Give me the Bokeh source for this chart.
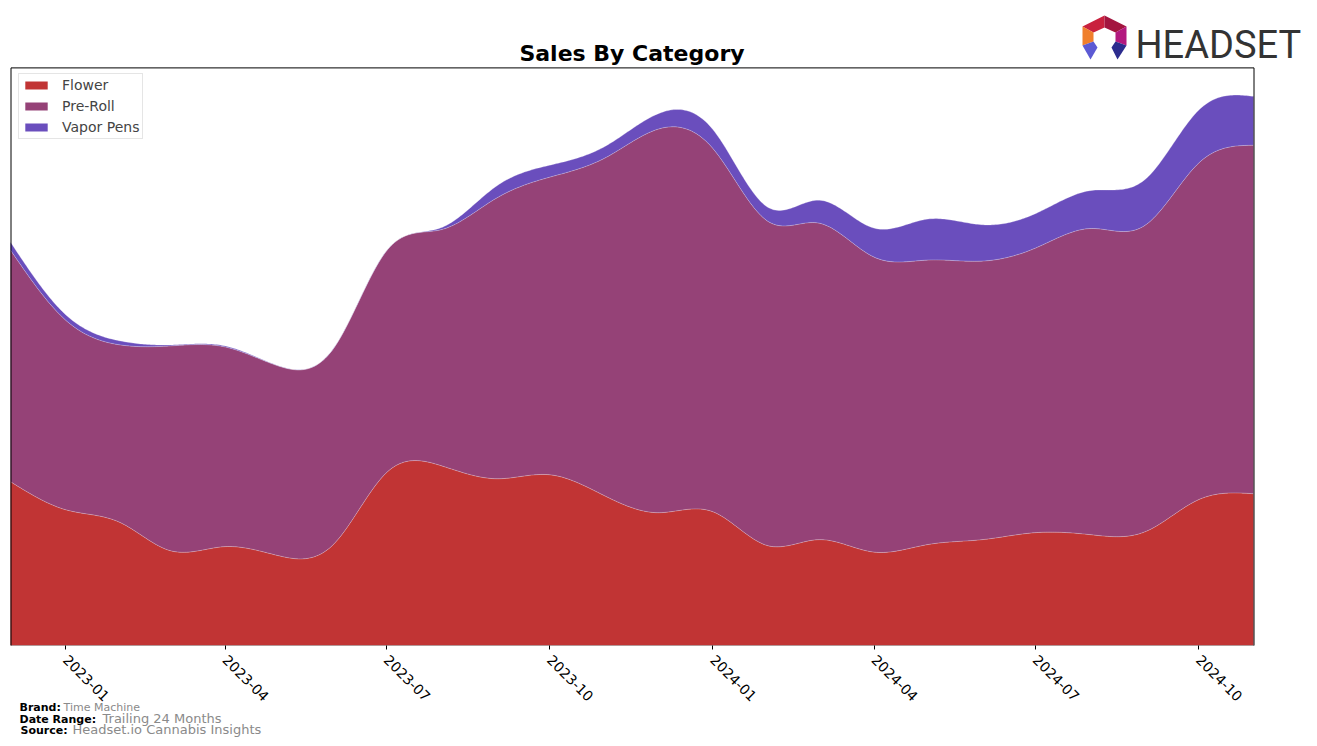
import numpy as np
import pandas as pd
from bokeh.plotting import figure
from bokeh.layouts import column
from bokeh.models import Range1d, FixedTicker, BoxAnnotation
from bokeh.core.properties import value
from bokeh.embed import file_html
from bokeh.resources import INLINE

# ---------------- data ----------------
months = ["2022-12", "2023-01", "2023-02", "2023-03", "2023-04", "2023-05",
          "2023-06", "2023-07", "2023-08", "2023-09", "2023-10", "2023-11",
          "2023-12", "2024-01", "2024-02", "2024-03", "2024-04", "2024-05",
          "2024-06", "2024-07", "2024-08", "2024-09", "2024-10", "2024-11"]
flower = [164, 136, 123, 95, 99, 90, 101, 173, 180, 167, 171, 150,
          133, 134, 100, 106, 93.5, 101, 106, 113, 111, 114, 146, 152]
preroll = [232, 190, 178, 205, 200, 190, 196, 222, 236.5, 281, 298, 338,
           384, 364, 325, 317, 295.5, 285, 279, 285, 306.6, 307, 337, 349]
vapor = [8, 5.5, 4, 1, 1, 0.3, 0.3, 0.3, 2, 12, 12, 11.6,
         15.4, 19, 14, 23, 29, 41, 36.4, 34.5, 38, 46, 53, 49]
categories = ["Flower", "Pre-Roll", "Vapor Pens"]
colors = ["#C13434", "#954277", "#6A4EBD"]
tick_labels = ["2023-01", "2023-04", "2023-07", "2023-10",
               "2024-01", "2024-04", "2024-07", "2024-10"]
title_text = "Sales By Category"
footer_keys = ["Brand:", "Date Range:", "Source:"]
footer_vals = ["Time Machine", "Trailing 24 Months", "Headset.io Cannabis Insights"]
logo_text = "HEADSET"
Y_MAX = 579  # top of the value axis

# ---------------- helpers ----------------
EPOCH = pd.Timestamp("1970-01-01")


def to_days(labels):
    return np.array([(pd.Timestamp(m + "-01") - EPOCH).days for m in labels], dtype=float)


def natural_spline(x, y, xn):
    x = np.asarray(x, float)
    y = np.asarray(y, float)
    n = len(x)
    h = np.diff(x)
    A = np.zeros((n, n))
    r = np.zeros(n)
    A[0, 0] = 1.0
    A[-1, -1] = 1.0
    for i in range(1, n - 1):
        A[i, i - 1] = h[i - 1]
        A[i, i] = 2 * (h[i - 1] + h[i])
        A[i, i + 1] = h[i]
        r[i] = 3 * ((y[i + 1] - y[i]) / h[i] - (y[i] - y[i - 1]) / h[i - 1])
    c = np.linalg.solve(A, r)
    b = (y[1:] - y[:-1]) / h - h * (2 * c[:-1] + c[1:]) / 3
    d = (c[1:] - c[:-1]) / (3 * h)
    idx = np.clip(np.searchsorted(x, xn, side="right") - 1, 0, n - 2)
    dx = xn - x[idx]
    return y[idx] + b[idx] * dx + c[idx] * dx ** 2 + d[idx] * dx ** 3


xd = to_days(months)
xs = np.linspace(xd[0], xd[-1], 700)
f_s = np.clip(natural_spline(xd, flower, xs), 0, None)
p_s = np.clip(natural_spline(xd, preroll, xs), 0, None)
v_s = np.clip(natural_spline(xd, vapor, xs), 0, None)

lvl0 = np.zeros_like(xs)
lvl1 = f_s
lvl2 = f_s + p_s
lvl3 = f_s + p_s + v_s

# ---------------- layout constants (pixels) ----------------
W = 1317
CH_LEFT, CH_RIGHT, CH_TOP, CH_BOTTOM = 10, 1253, 67, 646
AXIS_H = 62
MAIN_H = CH_BOTTOM + AXIS_H
FOOT_TOP = 700
FOOT_H = 746 - FOOT_TOP
BASE_FIX = 0.3  # baseline correction for text glyphs (fraction of font size)

s = (CH_RIGHT - CH_LEFT) / (xd[-1] - xd[0])  # px per day
x_lo = xd[0] - CH_LEFT / s
x_hi = xd[-1] + (W - CH_RIGHT) / s
y_scale = (CH_BOTTOM - CH_TOP) / Y_MAX


def cx2d(cx):
    return xd[0] + (cx - CH_LEFT) / s


def cy2d(cy):
    return (CH_BOTTOM - cy) / y_scale


# ---------------- main chart ----------------
p = figure(width=W, height=MAIN_H, output_backend="svg", toolbar_location=None,
           x_range=Range1d(x_lo, x_hi), y_range=Range1d(0, CH_BOTTOM / y_scale),
           y_axis_location=None,
           min_border_left=0, min_border_right=0,
           min_border_top=0, min_border_bottom=AXIS_H)
p.grid.visible = False
p.outline_line_color = None
p.background_fill_color = "white"
p.border_fill_color = "white"

tick_days = to_days(tick_labels)
p.xaxis.ticker = FixedTicker(ticks=list(tick_days))
p.xaxis.major_label_overrides = {int(d): lab for d, lab in zip(tick_days, tick_labels)}
p.xaxis.major_label_orientation = -np.pi / 4
p.xaxis.major_label_text_font = "DejaVu Sans"
p.xaxis.major_label_text_font_size = "14px"
p.xaxis.major_label_text_color = "black"
p.xaxis.major_label_standoff = 8
p.xaxis.major_tick_out = 4
p.xaxis.major_tick_in = 0
p.xaxis.minor_tick_line_color = None
p.xaxis.axis_line_color = None
p.xaxis.major_tick_line_color = "black"

levels = [(lvl0, lvl1), (lvl1, lvl2), (lvl2, lvl3)]
for (lo, hi), name, col in zip(levels, categories, colors):
    p.varea(x=xs, y1=lo, y2=hi, fill_color=col, fill_alpha=1.0, legend_label=name)
for hi in (lvl1, lvl2, lvl3):
    p.line(x=xs, y=hi, line_color="white", line_alpha=0.35, line_width=0.8)

# chart border (half-pixel aligned for a crisp 1px line)
p.add_layout(BoxAnnotation(left=cx2d(CH_LEFT + 0.5), right=cx2d(CH_RIGHT + 0.5),
                           bottom=cy2d(CH_BOTTOM + 0.5), top=cy2d(CH_TOP + 0.5),
                           fill_color=None, fill_alpha=0, line_color="black",
                           line_alpha=1.0, line_width=1, line_dash="solid",
                           level="overlay"))

p.legend.location = (18, CH_BOTTOM - 140)
p.legend.margin = 0
p.legend.padding = 3
p.legend.spacing = 5
p.legend.label_height = 16
p.legend.glyph_height = 10
p.legend.glyph_width = 28
p.legend.label_standoff = 12
p.legend.label_text_font = "DejaVu Sans"
p.legend.label_text_font_size = "14px"
p.legend.border_line_color = "#cccccc"
p.legend.background_fill_alpha = 0.8

# title and logo (inside the main canvas, above the chart border)
p.text(x=[cx2d(631.5)], y=[cy2d(60 - BASE_FIX * 22)], text=[title_text],
       text_font=value("DejaVu Sans"), text_font_size="22px", text_font_style="bold",
       text_align="center", text_baseline="alphabetic", text_color="black")
p.text(x=[cx2d(1135)], y=[cy2d(56 - BASE_FIX * 38)], text=[logo_text],
       text_font=value("Roboto"), text_font_size="38px", text_align="left",
       text_baseline="alphabetic", text_color="#333333")
O = {"top": (1104, 15), "ur": (1126, 26), "lr": (1126, 45), "ll": (1082, 45), "ul": (1082, 26)}
I = {"top": (1104, 27), "ur": (1115, 32), "lr": (1115, 41), "ll": (1093, 41), "ul": (1093, 32)}
pieces = [
    ([O["ul"], O["top"], I["top"], I["ul"]], "#C9213E"),
    ([O["top"], O["ur"], I["ur"], I["top"]], "#A3153F"),
    ([O["ul"], I["ul"], I["ll"], O["ll"]], "#F07F2C"),
    ([O["ur"], O["lr"], I["lr"], I["ur"]], "#B3197F"),
    ([O["ll"], I["ll"], (1097, 47), (1090, 59)], "#5C5AD4"),
    ([O["lr"], I["lr"], (1111, 47), (1117, 59)], "#2C2C8E"),
]
p.patches(xs=[[cx2d(a) for a, b in pts] for pts, c in pieces],
          ys=[[cy2d(b) for a, b in pts] for pts, c in pieces],
          fill_color=[c for pts, c in pieces], line_color=None)

# ---------------- footer (overlaps the axis area slightly, transparent) ----------------
foot = figure(width=W, height=FOOT_H, output_backend="svg", toolbar_location=None,
              x_range=Range1d(0, W), y_range=Range1d(746, FOOT_TOP),
              x_axis_location=None, y_axis_location=None,
              min_border_left=0, min_border_right=0, min_border_top=0, min_border_bottom=0,
              margin=(FOOT_TOP - MAIN_H, 0, 0, 0))
foot.grid.visible = False
foot.outline_line_color = None
foot.background_fill_alpha = 0
foot.border_fill_alpha = 0
foot.text(x=[19, 19, 20], y=[710 - BASE_FIX * 11, 722 - BASE_FIX * 11, 733 - BASE_FIX * 11],
          text=footer_keys, text_font=value("DejaVu Sans"), text_font_size="11px",
          text_font_style="bold", text_color="black", text_align="left",
          text_baseline="alphabetic")
foot.text(x=[63, 102, 72], y=[710 - BASE_FIX * 11, 722 - BASE_FIX * 13, 733 - BASE_FIX * 13],
          text=footer_vals, text_font=value("DejaVu Sans"),
          text_font_size=["11px", "13px", "13px"], text_color="#8a8a8a",
          text_align="left", text_baseline="alphabetic")

layout = column(p, foot, spacing=0)
open("out.html", "w").write(file_html(layout, INLINE))
